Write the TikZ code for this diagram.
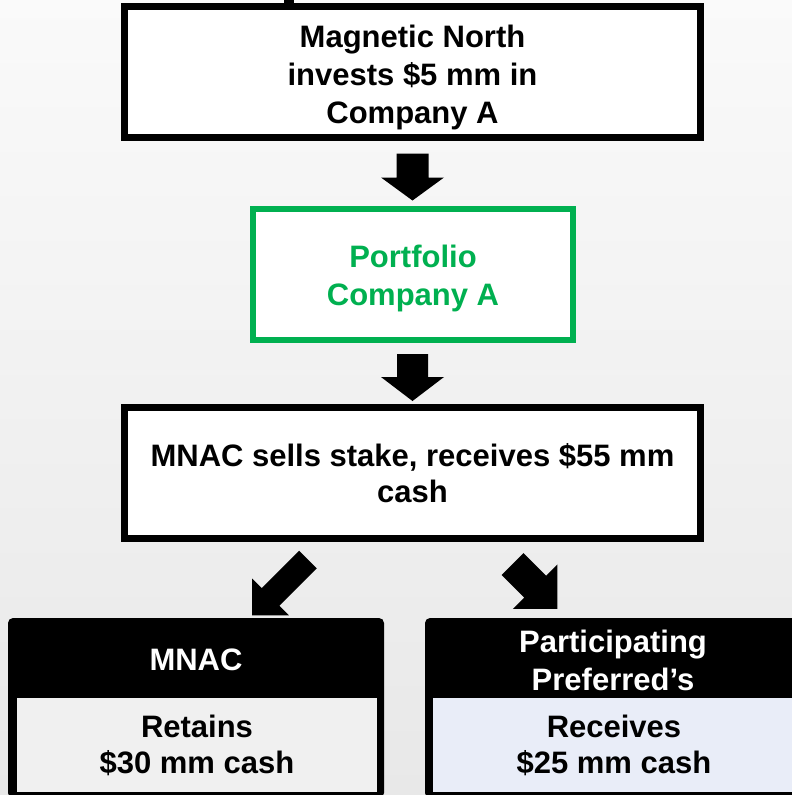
\documentclass[tikz,border=0pt]{standalone}
\usepackage{fontspec}
\setmainfont{Liberation Sans}
\usepackage{tikz}
\usetikzlibrary{calc}
\usetikzlibrary{positioning}
\definecolor{mnGreen}{RGB}{0,176,80}
\definecolor{mnBlue}{RGB}{233,237,248}
\definecolor{mnMist}{RGB}{240,240,240}
\tikzset{bigtxt/.style={font=\bfseries\fontsize{31}{38}\selectfont,align=center}}
\tikzset{flowbox/.style={draw,line width=7pt,fill=white,minimum width=576pt,minimum height=131pt,inner sep=0pt}}
\tikzset{outbox/.style={fill=black,rounded corners=5pt,minimum width=376pt,minimum height=180pt,inner sep=0pt}}
\tikzset{pics/blkarrow/.style n args={4}{code={\fill (0,-#4) -- (#1-#2,-#4) -- (#1-#2,-#3) -- (#1,0) -- (#1-#2,#3) -- (#1-#2,#4) -- (0,#4) -- cycle;}}}

\begin{document}
\begin{tikzpicture}[x=1pt,y=-1pt,line join=miter]
\useasboundingbox (0,0) rectangle (792,795);
\clip (0,0) rectangle (792,795);
% --- backdrop
\shade[top color=gray!4,bottom color=gray!18] (0,0) rectangle (792,795);
% --- main chain
\node[flowbox] (invest) at (412.5,72) {};
\node[bigtxt] (investTxt) at ($(invest.center)+(0,5)$) {Magnetic North\\ invests \$5 mm in\\ Company A};
\node[flowbox,draw=mnGreen,line width=6pt,minimum width=320pt] (portco) at (413,274.5) {};
\node[bigtxt,text=mnGreen] (portcoTxt) at ($(portco.center)+(0,4)$) {Portfolio\\ Company A};
\node[flowbox] (sale) at (412.5,473) {};
\node[bigtxt,font=\bfseries\fontsize{31}{36}\selectfont] (saleTxt) at (sale.center) {MNAC sells stake, receives \$55 mm\\ cash};
\coordinate (feed) at ($(invest.north)+(-123.5,0)$);
\draw[line width=10pt] (feed) -- ++(0,-12);
% --- block arrows
\pic[rotate=-90] at ($(invest.south)+(0,12.5)$) {blkarrow={47}{23}{31.5}{16}};
\pic[rotate=-90] at ($(portco.south)+(-0.5,11)$) {blkarrow={47}{24}{31.5}{15.5}};
\pic[rotate=-135] at ($(sale.south)+(-104.5,17.5)$) {blkarrow={79}{26}{26}{12.5}};
\pic[rotate=-45] at ($(sale.south)+(100,22)$) {blkarrow={63.6}{31.5}{31.5}{15.5}};
% --- split of the cash
\node[outbox] (mnacBox) at (196,708) {};
\node[fill=mnMist,minimum width=360pt,minimum height=94pt,inner sep=0pt] (mnacBody) at (197,745) {};
\node[bigtxt,white] (mnacHead) at (196,660) {MNAC};
\node[bigtxt,font=\bfseries\fontsize{31}{36}\selectfont] (mnacCash) at (mnacBody) {Retains\\ \$30 mm cash};
\node[outbox] (prefBox) at (613,708) {};
\node[fill=mnBlue,minimum width=362pt,minimum height=94pt,inner sep=0pt] (prefBody) at (614,745) {};
\node[bigtxt,white] (prefHead) at (613,660) {Participating\\ Preferred’s};
\node[bigtxt,font=\bfseries\fontsize{31}{36}\selectfont] (prefCash) at (prefBody) {Receives\\ \$25 mm cash};
\end{tikzpicture}
\end{document}
